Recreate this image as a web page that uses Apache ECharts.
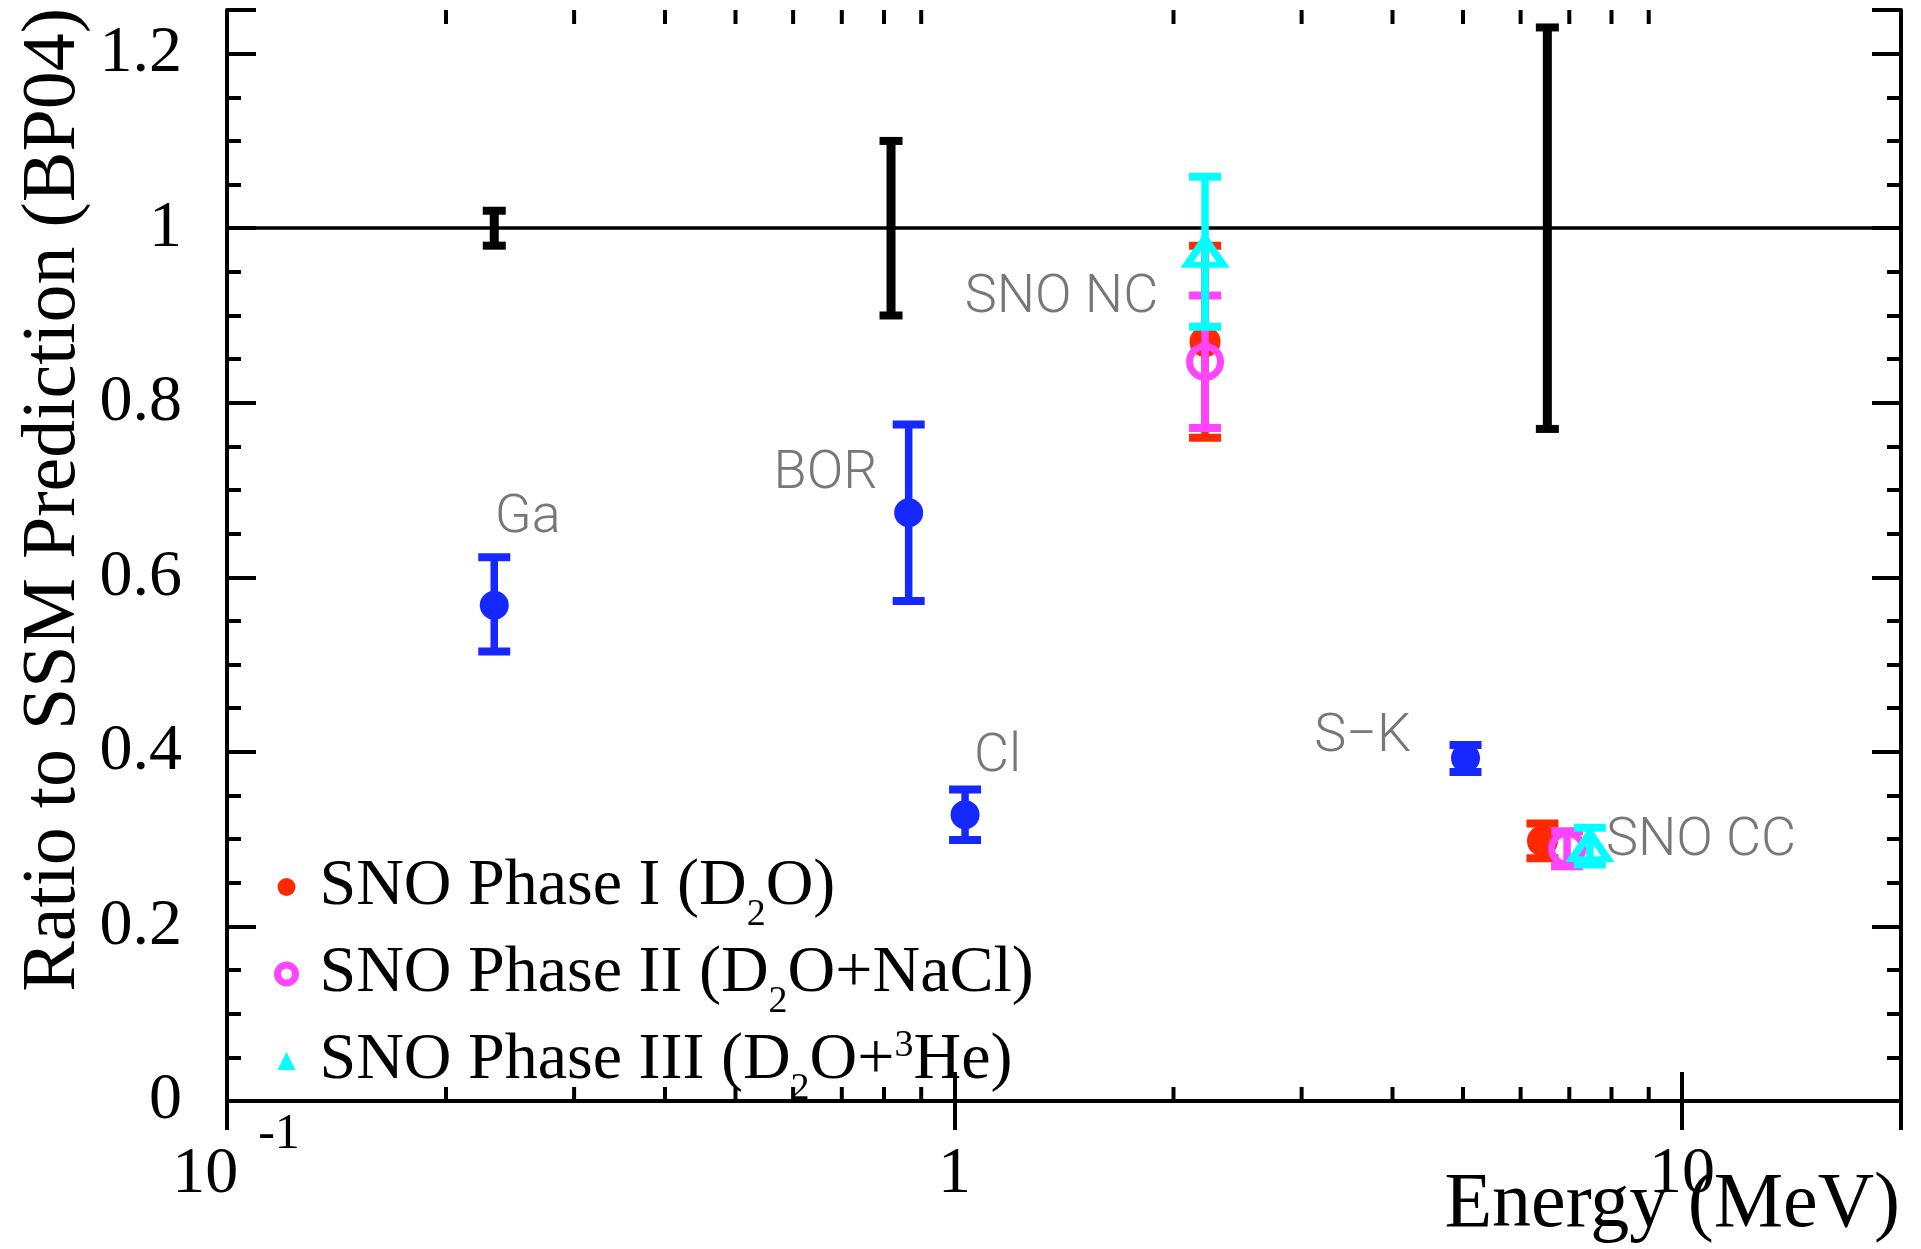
<!DOCTYPE html>
<html>
<head>
<meta charset="utf-8">
<title>Ratio to SSM Prediction</title>
<script src="https://cdn.jsdelivr.net/npm/echarts@6.0.0/dist/echarts.min.js"></script>
<style>
  html, body { margin: 0; padding: 0; background: #fff; }
  #main { width: 1921px; height: 1249px; }
</style>
</head>
<body>
<div id="main"></div>
<script>
// values: energy in MeV, ratio to the BP04 prediction

// SSM prediction uncertainty (black bars around 1)
var ssmEnergy = [0.233, 0.818, 6.53];
var ssmRatio  = [1, 1, 1];
var ssmErr    = [0.02, 0.10, 0.23];

// Ga, BOR, Cl, S-K (blue)
var expEnergy = [0.233, 0.865, 1.034, 5.04];
var expRatio  = [0.568, 0.674, 0.328, 0.393];
var expErrLo  = [0.053, 0.101, 0.029, 0.016];
var expErrHi  = [0.055, 0.101, 0.029, 0.015];

// SNO phases: first point is NC, second is CC
var p1Energy = [2.21, 6.43];
var p1Ratio  = [0.870, 0.298];
var p1Err    = [0.110, 0.020];

var p2Energy = [2.21, 6.95];
var p2Ratio  = [0.847, 0.289];
var p2Err    = [0.076, 0.020];

var p3Energy = [2.21, 7.47];
var p3Ratio  = [0.973, 0.292];
var p3Err    = [0.086, 0.021];

// grey annotations
var noteText   = ['Ga', 'BOR', 'Cl', 'S\u2212K', 'SNO NC', 'SNO CC'];
var noteEnergy = [0.259, 0.665, 1.146, 3.64, 1.403, 10.62];
var noteRatio  = [0.667, 0.7175, 0.393, 0.417, 0.919, 0.297];

// log axis minor ticks
var xMinorTicks = [0.2, 0.3, 0.4, 0.5, 0.6, 0.7, 0.8, 0.9, 2, 3, 4, 5, 6, 7, 8, 9];

var seriesNames = ['SNO Phase I (D2O)', 'SNO Phase II (D2O+NaCl)', 'SNO Phase III (D2O+3He)'];
var legendRich = {
    'SNO Phase I (D2O)': '{t|SNO Phase I (D}{sub|2}{t|O)}',
    'SNO Phase II (D2O+NaCl)': '{t|SNO Phase II (D}{sub|2}{t|O+NaCl)}',
    'SNO Phase III (D2O+3He)': '{t|SNO Phase III (D}{sub|2}{t|O+}{sup|3}{t|He)}'
};

var BLUE = '#1428ff', RED = '#ff2800', MAGENTA = '#ff44ff', CYAN = '#00ffff';
var SERIF = '"Liberation Serif", "Times New Roman", serif';

function pairs(xs, ys) {
    var out = [];
    for (var i = 0; i < xs.length; i++) out.push([xs[i], ys[i]]);
    return out;
}

function bars(xs, ys, lo, hi) {
    var out = [];
    for (var i = 0; i < xs.length; i++) out.push([xs[i], ys[i] - lo[i], ys[i] + hi[i]]);
    return out;
}

//error bar with flat caps, like the ROOT style
function errorBar(lineW, capW, capH, color) {
    return function(params, api) {
        var top = api.coord([api.value(0), api.value(2)]);
        var bot = api.coord([api.value(0), api.value(1)]);
        return {
            type: 'group',
            children: [
                { type: 'line', shape: { x1: top[0], y1: top[1], x2: bot[0], y2: bot[1] },
                  style: { stroke: color, lineWidth: lineW } },
                { type: 'rect', shape: { x: top[0] - capW / 2, y: top[1] - capH / 2, width: capW, height: capH },
                  style: { fill: color } },
                { type: 'rect', shape: { x: bot[0] - capW / 2, y: bot[1] - capH / 2, width: capW, height: capH },
                  style: { fill: color } }
            ]
        };
    };
}

function barSeries(data, lineW, capW, capH, color, z) {
    return {
        type: 'custom',
        renderItem: errorBar(lineW, capW, capH, color),
        data: data,
        encode: { x: 0, y: [1, 2] },
        silent: true,
        z: z
    };
}

var minorTickSeries = {
    type: 'custom',
    silent: true,
    z: 3,
    data: xMinorTicks.map(function(v) { return [v, 0.5]; }),
    encode: { x: 0, y: 1 },
    renderItem: function(params, api) {
        var x = api.coord([api.value(0), api.value(1)])[0];
        var cs = params.coordSys;
        var st = { stroke: '#000', lineWidth: 4 };
        return {
            type: 'group',
            children: [
                { type: 'line', shape: { x1: x, y1: cs.y + cs.height, x2: x, y2: cs.y + cs.height - 14 }, style: st },
                { type: 'line', shape: { x1: x, y1: cs.y, x2: x, y2: cs.y + 14 }, style: st }
            ]
        };
    },
    markLine: {
        silent: true,
        symbol: ['none', 'none'],
        label: { show: false },
        lineStyle: { color: '#000', width: 3.5, type: 'solid' },
        data: [{ yAxis: 1 }]
    }
};

var axisLineStyle = { show: true, lineStyle: { color: '#000', width: 4 } };

var chart = echarts.init(document.getElementById('main'));
chart.setOption({
    animation: false,
    backgroundColor: '#fff',
    grid: {
        left: 227, right: 20, top: 10, bottom: 148,
        containLabel: false,
        outerBoundsMode: 'none'
    },
    xAxis: [{
        type: 'log', logBase: 10, min: 0.1, max: 20,
        position: 'bottom',
        axisLine: axisLineStyle,
        axisTick: { show: true, inside: true, length: 29, lineStyle: { color: '#000', width: 4 } },
        splitLine: { show: false },
        axisLabel: {
            show: true,
            showMaxLabel: false,
            margin: 4,
            fontFamily: SERIF, fontSize: 66, color: '#000', lineHeight: 140,
            formatter: function(v) {
                var p = Math.round(Math.log10(v));
                if (p === -1) return '{b|10}{sup|-1}';
                if (p === 0) return '1';
                return '10';
            },
            rich: {
                b: { fontFamily: SERIF, fontSize: 66, color: '#000', lineHeight: 140, padding: [0, 0, 0, 18] },
                sup: { fontFamily: SERIF, fontSize: 50, color: '#000', lineHeight: 140, padding: [0, 0, 80, 20] }
            }
        }
    }, {
        type: 'log', logBase: 10, min: 0.1, max: 20,
        position: 'top',
        axisLine: axisLineStyle,
        axisTick: { show: true, inside: true, length: 29, lineStyle: { color: '#000', width: 4 } },
        splitLine: { show: false },
        axisLabel: { show: false }
    }],
    yAxis: [{
        type: 'value', min: 0, max: 1.25, interval: 0.2,
        position: 'left',
        axisLine: axisLineStyle,
        axisTick: { show: true, inside: true, length: 29, lineStyle: { color: '#000', width: 4 } },
        minorTick: { show: true, splitNumber: 4, length: 14, lineStyle: { color: '#000', width: 4 } },
        splitLine: { show: false },
        axisLabel: {
            showMaxLabel: false,
            margin: 45,
            fontFamily: SERIF, fontSize: 66, color: '#000'
        }
    }, {
        type: 'value', min: 0, max: 1.25, interval: 0.2,
        position: 'right',
        axisLine: axisLineStyle,
        axisTick: { show: true, inside: true, length: 29, lineStyle: { color: '#000', width: 4 } },
        minorTick: { show: true, splitNumber: 4, length: 14, lineStyle: { color: '#000', width: 4 } },
        splitLine: { show: false },
        axisLabel: { show: false }
    }],
    legend: {
        orient: 'vertical',
        left: 274, top: 840,
        padding: 0,
        itemGap: -7,
        itemWidth: 18, itemHeight: 18,
        selectedMode: false,
        data: [
            { name: seriesNames[0], itemStyle: { borderWidth: 0 } },
            { name: seriesNames[1], itemStyle: { borderWidth: 7 } },
            { name: seriesNames[2], itemStyle: { color: CYAN, borderWidth: 0 } }
        ],
        formatter: function(name) { return legendRich[name]; },
        textStyle: {
            fontFamily: SERIF, fontSize: 66, color: '#000',
            padding: [0, 0, 0, 19],
            rich: {
                t: { fontFamily: SERIF, fontSize: 66, color: '#000', lineHeight: 100 },
                sub: { fontFamily: SERIF, fontSize: 38, color: '#000', lineHeight: 100, padding: [56, 0, 0, 0] },
                sup: { fontFamily: SERIF, fontSize: 38, color: '#000', lineHeight: 100, padding: [0, 0, 30, 0] }
            }
        }
    },
    graphic: [{
        type: 'text',
        x: 54, y: 8,
        rotation: Math.PI / 2,
        style: {
            text: 'Ratio to SSM Prediction (BP04)',
            font: '76px ' + SERIF,
            fill: '#000',
            align: 'right',
            verticalAlign: 'middle'
        }
    }, {
        type: 'text',
        x: 1900, y: 1206,
        z: 20,
        style: {
            text: 'Energy (MeV)',
            font: '78px ' + SERIF,
            fill: '#000',
            align: 'right',
            verticalAlign: 'middle'
        }
    }],
    series: [
        minorTickSeries,
        barSeries(bars(ssmEnergy, ssmRatio, ssmErr, ssmErr), 9, 23, 8, '#000', 4),
        barSeries(bars(expEnergy, expRatio, expErrLo, expErrHi), 7.5, 32, 8, BLUE, 5),
        {
            type: 'scatter', name: 'experiments', silent: true, z: 6,
            symbol: 'circle', symbolSize: 29,
            itemStyle: { color: BLUE, opacity: 1 },
            data: pairs(expEnergy, expRatio)
        },
        barSeries(bars(p1Energy, p1Ratio, p1Err, p1Err), 7.5, 32, 8, RED, 7),
        {
            type: 'scatter', name: seriesNames[0], silent: true, z: 8,
            symbol: 'circle', symbolSize: 31,
            itemStyle: { color: RED, opacity: 1 },
            data: pairs(p1Energy, p1Ratio)
        },
        barSeries(bars(p2Energy, p2Ratio, p2Err, p2Err), 7.5, 32, 8, MAGENTA, 9),
        {
            type: 'scatter', name: seriesNames[1], silent: true, z: 10,
            symbol: 'circle', symbolSize: 31,
            itemStyle: { color: 'rgba(0,0,0,0)', borderColor: MAGENTA, borderWidth: 7, opacity: 1 },
            data: pairs(p2Energy, p2Ratio)
        },
        barSeries(bars(p3Energy, p3Ratio, p3Err, p3Err), 7.5, 32, 8, CYAN, 11),
        {
            type: 'scatter', name: seriesNames[2], silent: true, z: 12,
            symbol: 'triangle', symbolSize: [36, 26],
            itemStyle: { color: 'rgba(0,0,0,0)', borderColor: CYAN, borderWidth: 7, opacity: 1 },
            data: pairs(p3Energy, p3Ratio)
        },
        {
            type: 'scatter', name: 'notes', silent: true, z: 13,
            symbolSize: 1,
            itemStyle: { color: 'rgba(0,0,0,0)' },
            label: {
                show: true,
                position: 'inside',
                fontFamily: 'Roboto, "Open Sans", sans-serif',
                fontWeight: 300,
                fontSize: 54,
                color: '#555',
                formatter: function(p) { return noteText[p.dataIndex]; }
            },
            data: pairs(noteEnergy, noteRatio)
        }
    ]
});
</script>
</body>
</html>
